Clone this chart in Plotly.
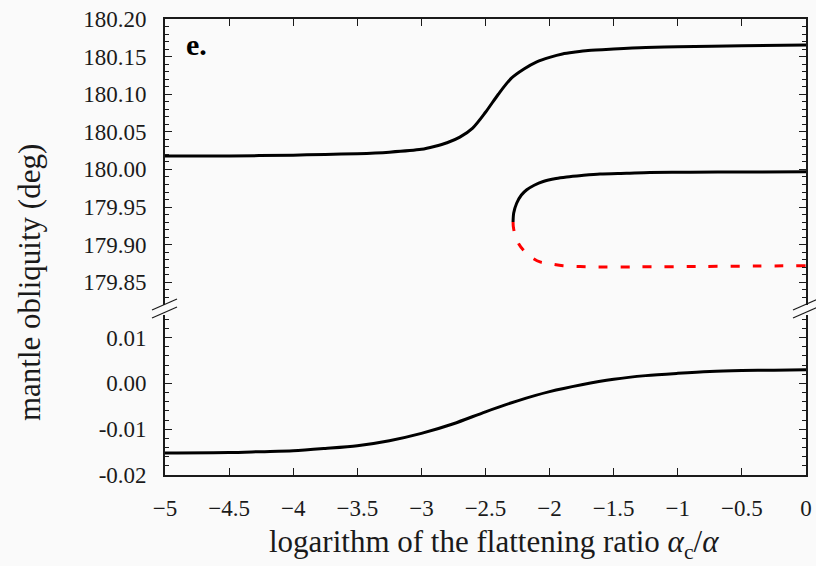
import plotly.graph_objects as go

# Upper equilibrium (near 180 deg), continuous over the whole range
x_upper = [-5.0, -4.5, -4.0, -3.75, -3.5, -3.25, -3.0, -2.9, -2.8, -2.7, -2.6, -2.5,
           -2.4, -2.3, -2.2, -2.1, -2.0, -1.9, -1.8, -1.7, -1.5, -1.25, -1.0, -0.5, 0.0]
y_upper = [180.018, 180.018, 180.019, 180.020, 180.021, 180.023, 180.0267, 180.0305,
           180.0355, 180.043, 180.055, 180.076, 180.100, 180.121, 180.1335, 180.143,
           180.149, 180.1535, 180.156, 180.158, 180.160, 180.162, 180.163, 180.1645,
           180.1655]

# Fold: stable branch (solid) and unstable branch (dashed)
x_stable = [-2.285, -2.280, -2.257, -2.22, -2.178, -2.12, -2.05, -1.95, -1.867,
            -1.75, -1.607, -1.4, -1.217, -0.9, -0.5, 0.0]
y_stable = [179.930, 179.942, 179.955, 179.966, 179.973, 179.979, 179.984, 179.988,
            179.990, 179.992, 179.994, 179.995, 179.996, 179.9963, 179.9966, 179.9968]

x_unstable = [-2.285, -2.283, -2.270, -2.24, -2.205, -2.14, -2.075, -1.98, -1.895,
              -1.66, -1.3, -0.8, -0.4, 0.0]
y_unstable = [179.930, 179.924, 179.913, 179.901, 179.893, 179.883, 179.877, 179.874,
              179.872, 179.8705, 179.8705, 179.871, 179.8715, 179.872]

# Lower equilibrium (near 0 deg)
x_lower = [-5.0, -4.5, -4.25, -4.0, -3.75, -3.5, -3.25, -3.0, -2.75, -2.5, -2.25,
           -2.0, -1.75, -1.5, -1.25, -1.0, -0.75, -0.5, -0.25, 0.0]
y_lower = [-0.0152, -0.0151, -0.0149, -0.0147, -0.0142, -0.0136, -0.0125, -0.0109,
           -0.0088, -0.0062, -0.0038, -0.0018, -0.0003, 0.0009, 0.0017, 0.0022,
           0.0026, 0.0028, 0.0029, 0.0030]

x_ticks = [-5, -4.5, -4, -3.5, -3, -2.5, -2, -1.5, -1, -0.5, 0]
x_ticktext = ["\u22125", "\u22124.5", "\u22124", "\u22123.5", "\u22123", "\u22122.5",
              "\u22122", "\u22121.5", "\u22121", "\u22120.5", "0"]
top_ticks = [179.85, 179.90, 179.95, 180.00, 180.05, 180.10, 180.15, 180.20]
top_ticktext = ["179.85", "179.90", "179.95", "180.00", "180.05", "180.10", "180.15", "180.20"]
bot_ticks = [-0.02, -0.01, 0.0, 0.01]
bot_ticktext = ["-0.02", "-0.01", "0.00", "0.01"]

FONT = "Liberation Serif"
INK = "#1a1a1a"
BG = "#fafafa"

W, H = 816, 566
L, R, T, B = 165, 10, 19, 91
PW, PH = W - L - R, H - T - B


def px(xp):
    return (xp - L) / PW


def py(yp):
    return (H - B - yp) / PH


fig = go.Figure()
line_black = dict(color="black", width=3, shape="spline", smoothing=0.8)

fig.add_trace(go.Scatter(x=x_upper, y=y_upper, mode="lines", line=line_black,
                         xaxis="x2", yaxis="y2", showlegend=False))
fig.add_trace(go.Scatter(x=x_stable, y=y_stable, mode="lines", line=line_black,
                         xaxis="x2", yaxis="y2", showlegend=False))
fig.add_trace(go.Scatter(x=x_unstable, y=y_unstable, mode="lines",
                         line=dict(color="#ff0000", width=3, dash="9px,13px",
                                   shape="spline", smoothing=0.8),
                         xaxis="x2", yaxis="y2", showlegend=False))
fig.add_trace(go.Scatter(x=x_lower, y=y_lower, mode="lines", line=line_black,
                         xaxis="x", yaxis="y", showlegend=False))

top_lo = 179.82
top_hi = 180.20
bot_lo = -0.02
bot_hi = 0.015
bot_dom_top = 0.3515
top_dom_bot = 0.3732

axis_common = dict(showgrid=False, zeroline=False, linecolor=INK, linewidth=1.6,
                   ticks="inside", tickcolor=INK, tickwidth=1.2, automargin=False,
                   tickfont=dict(family=FONT, size=23, color=INK))

fig.update_layout(
    width=W, height=H,
    margin=dict(l=L, r=R, t=T, b=B, autoexpand=False),
    paper_bgcolor=BG, plot_bgcolor=BG,
    xaxis=dict(domain=[0, 1], range=[-5, 0], anchor="y", showline=True,
               tickmode="array", tickvals=x_ticks, ticktext=x_ticktext,
               ticklen=7, ticklabelstandoff=12, **axis_common),
    xaxis2=dict(domain=[0, 1], range=[-5, 0], anchor="y2", side="top", matches="x",
                showline=True, tickmode="array", tickvals=x_ticks,
                showticklabels=False, ticklen=7, **axis_common),
    yaxis=dict(domain=[0, bot_dom_top], range=[bot_lo, bot_hi], anchor="x",
               showline=True, mirror="allticks", tickmode="array", tickvals=bot_ticks,
               ticktext=bot_ticktext, ticklen=7, ticklabelstandoff=12,
               minor=dict(ticks="inside", ticklen=4, dtick=0.002, tick0=0,
                          tickcolor=INK, tickwidth=1.0),
               **axis_common),
    yaxis2=dict(domain=[top_dom_bot, 1], range=[top_lo, top_hi], anchor="x2",
                showline=True, mirror="allticks", tickmode="array", tickvals=top_ticks,
                ticktext=top_ticktext, ticklen=7, ticklabelstandoff=12,
                minor=dict(ticks="inside", ticklen=4, dtick=0.01, tick0=180.0,
                           tickcolor=INK, tickwidth=1.0),
                **axis_common),
)

# Axis-break marks on both vertical axes
for xc in (L, L + PW):
    for dy in (0, 8):
        fig.add_shape(type="line", xref="paper", yref="paper",
                      x0=px(xc - 13), y0=py(310 + dy), x1=px(xc + 12), y1=py(299 + dy),
                      line=dict(color=INK, width=1.2), layer="above")

fig.add_annotation(text="<b>e.</b>", xref="paper", yref="paper",
                   x=px(196), y=py(44), xanchor="center", yanchor="middle",
                   showarrow=False, font=dict(family=FONT, size=30, color="black"))
fig.add_annotation(text="mantle obliquity (deg)", xref="paper", yref="paper",
                   x=px(29), y=py(283), xanchor="center", yanchor="middle",
                   textangle=-90, showarrow=False,
                   font=dict(family=FONT, size=31, color=INK))
fig.add_annotation(text="logarithm of the flattening ratio <i>\u03b1</i><sub>c</sub>/<i>\u03b1</i>",
                   xref="paper", yref="paper", x=px(494), y=py(544),
                   xanchor="center", yanchor="middle", showarrow=False,
                   font=dict(family=FONT, size=31, color=INK))

fig.write_html("out.html")
